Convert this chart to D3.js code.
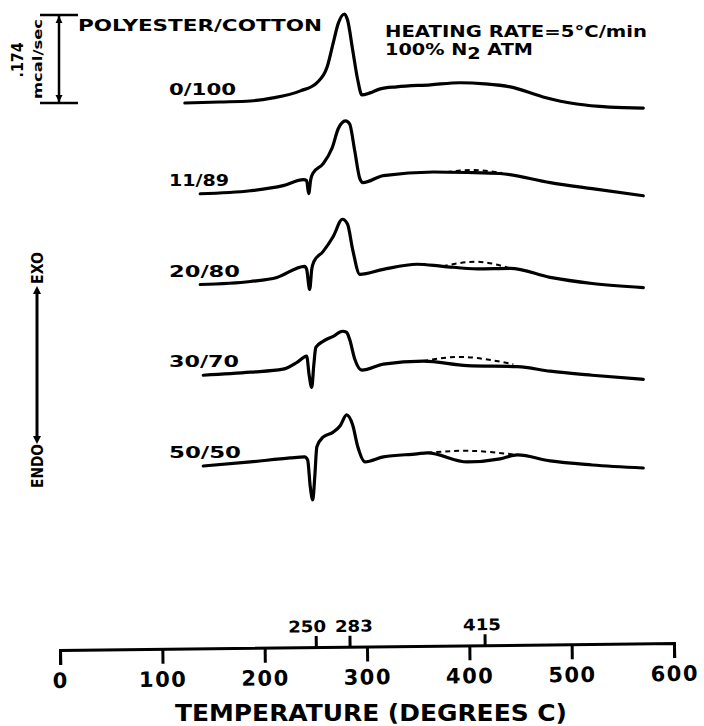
<!DOCTYPE html>
<html>
<head>
<meta charset="utf-8">
<script src="https://cdn.jsdelivr.net/npm/d3@7"></script>
<style>
  body { margin: 0; background: #fff; }
  svg { display: block; }
  text { font-family: "DejaVu Sans", sans-serif; font-weight: bold; fill: #000; }
</style>
</head>
<body>
<svg id="chart" width="704" height="726"></svg>
<script>
// Polyester/cotton blend ratios, one DSC trace each
const blends = ["0/100", "11/89", "20/80", "30/70", "50/50"];

// Heat flow (mcal/sec, exo up) against temperature (°C), measured from each trace's starting level
const trace0100 = [[122,0],[156,.002],[186,.004],[208,.010],[235,.024],[251,.040],[261,.071],[267,.119],[272,.158],[278,.176],[281,.164],[286,.105],[291,.045],[295,.016],[303,.020],[313,.028],[329,.032],[362,.036],[391,.040],[415,.038],[440,.032],[472,.012],[505,-.002],[537,-.008],[570,-.010]];
const trace1189 = [[137,0],[186,.006],[218,.016],[238,.028],[241,.026],[243,.000],[245,.028],[247,.040],[257,.059],[266,.091],[272,.129],[279,.144],[283,.138],[288,.085],[293,.030],[296,.022],[316,.036],[365,.043],[398,.042],[430,.040],[479,.022],[520,.010],[570,-.004]];
const trace2080 = [[137,0],[186,.006],[212,.014],[239,.036],[241,.030],[244,-.010],[246,.030],[248,.045],[257,.065],[267,.095],[276,.129],[281,.119],[286,.069],[293,.020],[316,.030],[349,.040],[374,.036],[408,.031],[440,.032],[479,.014],[520,.002],[570,-.006]];
const trace3070 = [[140,0],[186,.006],[218,.012],[232,.026],[241,.038],[243.5,.000],[246,-.024],[248,.020],[250,.055],[257,.067],[267,.077],[276,.087],[280,.085],[283,.071],[288,.032],[295,.010],[316,.022],[355,.028],[398,.019],[447,.017],[479,.008],[520,.000],[570,-.008]];
const trace5050 = [[140,0],[186,.008],[225,.016],[239,.018],[242,.012],[244.5,-.040],[247,-.067],[249,-.020],[251,.038],[257,.057],[267,.067],[274,.080],[280,.101],[286,.081],[291,.038],[298,.008],[316,.018],[349,.024],[359,.026],[398,.008],[430,.014],[447,.022],[479,.010],[520,.002],[570,-.004]];

// Extrapolated baselines under the 415 °C region (dashed)
const base1189 = [[378,.043],[405,.047],[432,.041]];
const base2080 = [[374,.036],[408,.045],[440,.032]];
const base3070 = [[355,.028],[395,.036],[443,.022]];
const base5050 = [[359,.026],[400,.030],[447,.022]];

const axisTicks = [0, 100, 200, 300, 400, 500, 600];
const markTicks = [250, 283, 415];
const scaleBarValue = 0.174;

const traces = [trace0100, trace1189, trace2080, trace3070, trace5050];
const baselines = [null, base1189, base2080, base3070, base5050];

const svg = d3.select("#chart");

const x = d3.scaleLinear().domain([0, 600]).range([60, 674]);
const dy = d3.scaleLinear().domain([0, scaleBarValue]).range([0, 88]);
const row = d3.scalePoint().domain(blends).range([103, 466]);

// Traces
blends.forEach((b, i) => {
  const y0 = row(b);
  const line = d3.line()
    .x(d => x(d[0]))
    .y(d => y0 - dy(d[1]))
    .curve(d3.curveMonotoneX);
  svg.append("path")
    .datum(traces[i])
    .attr("d", line)
    .attr("fill", "none")
    .attr("stroke", "#000")
    .attr("stroke-width", 3.2)
    .attr("stroke-linejoin", "round")
    .attr("stroke-linecap", "round");
  if (baselines[i]) {
    svg.append("path")
      .datum(baselines[i])
      .attr("d", line.curve(d3.curveNatural))
      .attr("fill", "none")
      .attr("stroke", "#000")
      .attr("stroke-width", 2)
      .attr("stroke-dasharray", "5,4");
  }
});

// Blend labels
const labelLen = {"0/100": 67, "11/89": 60, "20/80": 71, "30/70": 70, "50/50": 72};
svg.selectAll("text.blend")
  .data(blends)
  .join("text")
  .attr("class", "blend")
  .attr("x", 169)
  .attr("y", d => row(d) - 8)
  .attr("font-size", 15)
  .attr("textLength", d => labelLen[d])
  .attr("lengthAdjust", "spacingAndGlyphs")
  .text(d => d);

// Header texts
svg.append("text")
  .attr("x", 78).attr("y", 31)
  .attr("font-size", 16.5)
  .attr("textLength", 244).attr("lengthAdjust", "spacingAndGlyphs")
  .text("POLYESTER/COTTON");

svg.append("text")
  .attr("x", 385).attr("y", 37)
  .attr("font-size", 15)
  .attr("textLength", 262).attr("lengthAdjust", "spacingAndGlyphs")
  .text("HEATING RATE=5°C/min");

const atm = svg.append("text")
  .attr("x", 385).attr("y", 55)
  .attr("font-size", 15)
  .attr("textLength", 148).attr("lengthAdjust", "spacingAndGlyphs");
atm.append("tspan").text("100% N");
atm.append("tspan").attr("dy", 4).text("2");
atm.append("tspan").attr("dy", -4).text(" ATM");

// Scale bar: 0.174 mcal/sec
const barX = 59, barTop = 15, barBot = barTop + dy(scaleBarValue);
const bar = svg.append("g").attr("stroke", "#000").attr("stroke-width", 2.5);
bar.append("line").attr("x1", barX).attr("x2", barX).attr("y1", barTop).attr("y2", barBot);
bar.append("line").attr("x1", 40).attr("x2", 78).attr("y1", barTop).attr("y2", barTop);
bar.append("line").attr("x1", 40).attr("x2", 78).attr("y1", barBot).attr("y2", barBot);
svg.append("path")
  .attr("d", `M${barX},${barTop + 1}l-3.5,7h7z M${barX},${barBot - 1}l-3.5,-7h7z`)
  .attr("fill", "#000");

svg.append("text")
  .attr("transform", "translate(23,60) rotate(-90)")
  .attr("text-anchor", "middle")
  .attr("font-size", 15)
  .attr("textLength", 35).attr("lengthAdjust", "spacingAndGlyphs")
  .text(".174");
svg.append("text")
  .attr("transform", "translate(42,59) rotate(-90)")
  .attr("text-anchor", "middle")
  .attr("font-size", 13)
  .attr("textLength", 80).attr("lengthAdjust", "spacingAndGlyphs")
  .text("mcal/sec");

// EXO / ENDO direction arrow
const arrX = 37;
svg.append("line")
  .attr("x1", arrX).attr("x2", arrX).attr("y1", 290).attr("y2", 440)
  .attr("stroke", "#000").attr("stroke-width", 3);
svg.append("path")
  .attr("d", `M${arrX},286l-4,8h8z M${arrX},444l-4,-8h8z`)
  .attr("fill", "#000");
svg.append("text")
  .attr("transform", `translate(${arrX + 6},268) rotate(-90)`)
  .attr("text-anchor", "middle")
  .attr("font-size", 15)
  .attr("textLength", 32).attr("lengthAdjust", "spacingAndGlyphs")
  .text("EXO");
svg.append("text")
  .attr("transform", `translate(${arrX + 6},466) rotate(-90)`)
  .attr("text-anchor", "middle")
  .attr("font-size", 15)
  .attr("textLength", 44).attr("lengthAdjust", "spacingAndGlyphs")
  .text("ENDO");

// Temperature axis (slightly tilted, as drawn on the chart)
const axisG = svg.append("g")
  .attr("transform", `translate(0,650) rotate(-0.65,${x(0)},0)`);

const axisMain = axisG.append("g")
  .call(d3.axisBottom(x).tickValues(axisTicks).tickSize(15).tickSizeOuter(15).tickPadding(8));
axisMain.select(".domain").attr("stroke-width", 3);
axisMain.selectAll(".tick line").attr("stroke-width", 3);
axisMain.selectAll(".tick text")
  .attr("font-size", 21)
  .attr("font-family", "DejaVu Sans")
  .attr("letter-spacing", 1.5);

// Marked transition temperatures above the axis; labels nudged apart where they crowd
const markShift = {250: -9, 283: 4, 415: -3};
const axisMarks = axisG.append("g")
  .call(d3.axisTop(x).tickValues(markTicks).tickSize(11).tickPadding(4));
axisMarks.select(".domain").remove();
axisMarks.selectAll(".tick line").attr("stroke-width", 3);
axisMarks.selectAll(".tick text")
  .attr("font-size", 16)
  .attr("font-family", "DejaVu Sans")
  .attr("dx", d => markShift[d])
  .attr("textLength", 38).attr("lengthAdjust", "spacingAndGlyphs");

svg.append("text")
  .attr("x", 371).attr("y", 721)
  .attr("text-anchor", "middle")
  .attr("font-size", 23)
  .attr("textLength", 392).attr("lengthAdjust", "spacingAndGlyphs")
  .text("TEMPERATURE (DEGREES C)");
</script>
</body>
</html>
